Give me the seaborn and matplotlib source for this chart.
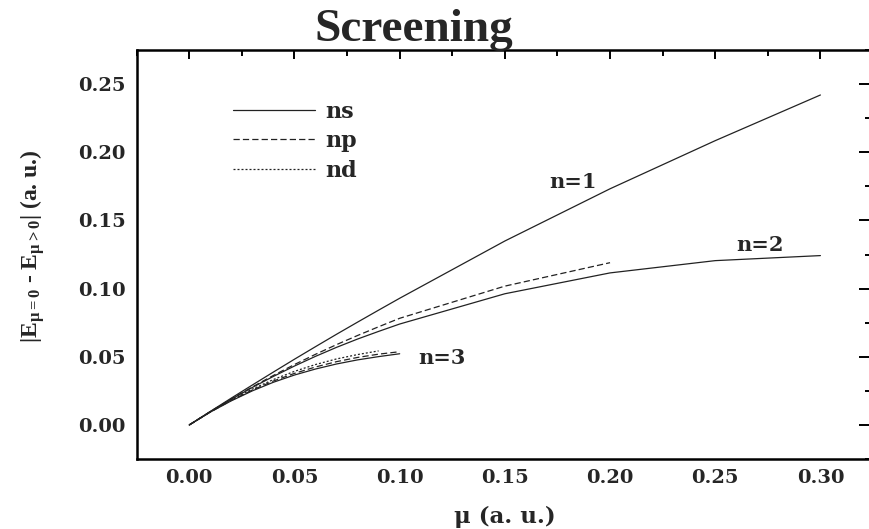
import numpy as np
import pandas as pd
import matplotlib
matplotlib.use("Agg")
import matplotlib.pyplot as plt
import seaborn as sns
from matplotlib.ticker import MultipleLocator, FormatStrFormatter

# screening parameter mu (a.u.)
mu_full = [0.00, 0.01, 0.02, 0.03, 0.04, 0.05, 0.06, 0.07, 0.08, 0.09, 0.10,
           0.15, 0.20, 0.25, 0.30]
mu_2p = [0.00, 0.01, 0.02, 0.03, 0.04, 0.05, 0.06, 0.07, 0.08, 0.09, 0.10,
         0.15, 0.20]
mu_n3 = [0.00, 0.01, 0.02, 0.03, 0.04, 0.05, 0.06, 0.07, 0.08, 0.09, 0.10]
mu_3d = [0.00, 0.01, 0.02, 0.03, 0.04, 0.05, 0.06, 0.07, 0.08, 0.09]

# |E(mu=0) - E(mu>0)| for each level (a.u.)
shift_1s = [0.0, 0.0099, 0.0197, 0.0293, 0.0388, 0.0482, 0.0574, 0.0665,
            0.0754, 0.0842, 0.0929, 0.1349, 0.1732, 0.2085, 0.2420]
shift_2s = [0.0, 0.0097, 0.0189, 0.0275, 0.0356, 0.0432, 0.0503, 0.0569,
            0.0630, 0.0686, 0.0740, 0.0962, 0.1115, 0.1205, 0.1242]
shift_2p = [0.0, 0.0098, 0.0191, 0.0279, 0.0363, 0.0443, 0.0518, 0.0589,
            0.0656, 0.0720, 0.0782, 0.1018, 0.1190]
shift_3s = [0.0, 0.0094, 0.0177, 0.0250, 0.0313, 0.0366, 0.0410, 0.0447,
            0.0477, 0.0501, 0.0522]
shift_3p = [0.0, 0.0095, 0.0180, 0.0256, 0.0322, 0.0378, 0.0425, 0.0464,
            0.0495, 0.0519, 0.0537]
shift_3d = [0.0, 0.0096, 0.0184, 0.0263, 0.0333, 0.0393, 0.0443, 0.0484,
            0.0516, 0.0543]

series = [
    (1, "ns", mu_full, shift_1s),
    (2, "ns", mu_full, shift_2s),
    (2, "np", mu_2p, shift_2p),
    (3, "ns", mu_n3, shift_3s),
    (3, "np", mu_n3, shift_3p),
    (3, "nd", mu_3d, shift_3d),
]
frames = []
for n, orb, mu, dE in series:
    frames.append(pd.DataFrame({"mu": mu, "dE": dE, "orbital": orb,
                                "level": f"{n}{orb[1]}"}))
df = pd.concat(frames, ignore_index=True)

sns.set_style("white")
plt.rcParams["font.family"] = ["DejaVu Serif"]
plt.rcParams["font.weight"] = "bold"
plt.rcParams["mathtext.fontset"] = "custom"
plt.rcParams["mathtext.rm"] = "Liberation Serif:bold"
plt.rcParams["mathtext.it"] = "Liberation Serif:bold"
plt.rcParams["mathtext.bf"] = "Liberation Serif:bold"

W, H = 870, 529
fig = plt.figure(figsize=(W / 100, H / 100), dpi=100)
ax = fig.add_axes([136.7 / W, 70 / H, 736.3 / W, 409 / H])

line_color = "#222222"
sns.lineplot(data=df, x="mu", y="dE", style="orbital", units="level",
             estimator=None, sort=False, color=line_color, linewidth=0.9,
             style_order=["ns", "np", "nd"],
             dashes={"ns": "", "np": (5, 2.5), "nd": (1.6, 1.6)},
             ax=ax)

ax.set_xlim(-0.025, 0.325)
ax.set_ylim(-0.025, 0.275)

ax.xaxis.set_major_locator(MultipleLocator(0.05))
ax.xaxis.set_minor_locator(MultipleLocator(0.025))
ax.yaxis.set_major_locator(MultipleLocator(0.05))
ax.yaxis.set_minor_locator(MultipleLocator(0.025))
ax.xaxis.set_major_formatter(FormatStrFormatter("%.2f"))
ax.yaxis.set_major_formatter(FormatStrFormatter("%.2f"))

for s in ax.spines.values():
    s.set_visible(True)
    s.set_linewidth(1.8)
    s.set_color("black")
# the right frame edge lies beyond the canvas
ax.spines["right"].set_visible(False)

ax.tick_params(axis="both", which="both", direction="in", top=True,
               right=True, color="black", width=1.4)
ax.tick_params(axis="x", which="major", length=6.5, pad=7)
ax.tick_params(axis="x", which="minor", length=4)
ax.tick_params(axis="y", which="major", length=10, pad=8)
ax.tick_params(axis="y", which="minor", length=5.5)
for lab in ax.get_xticklabels() + ax.get_yticklabels():
    lab.set_fontfamily("DejaVu Serif")
    lab.set_fontweight("bold")
    lab.set_fontsize(14)

ax.set_xlabel("μ (a. u.)", fontfamily="DejaVu Serif", fontweight="bold",
              fontsize=16.5)
ax.xaxis.set_label_coords(0.5, -0.115)
ax.set_ylabel(r"|$\mathbf{E}_{\mu=0}$ - $\mathbf{E}_{\mu>0}$| (a. u.)",
              fontfamily="Liberation Serif", fontweight="bold", fontsize=17)
ax.yaxis.set_label_coords(-0.122, 0.52)

handles, labels = ax.get_legend_handles_labels()
ax.legend(handles, labels, loc="upper left", bbox_to_anchor=(0.1308, 0.876),
          frameon=False, borderpad=0, borderaxespad=0, handlelength=3.7,
          handletextpad=0.45, labelspacing=0.34,
          prop={"family": "DejaVu Serif", "weight": "bold", "size": 16})

note_font = dict(fontfamily="DejaVu Serif", fontweight="bold", fontsize=15,
                 va="baseline", ha="left")
ax.text(0.171, 0.1735, "n=1", **note_font)
ax.text(0.260, 0.1275, "n=2", **note_font)
ax.text(0.109, 0.0445, "n=3", **note_font)

fig.text(414 / W, 1 - 41 / H, "Screening", fontfamily="Liberation Serif",
         fontweight="bold", fontsize=34, ha="center", va="baseline")

fig.savefig("out.png", dpi=100)
